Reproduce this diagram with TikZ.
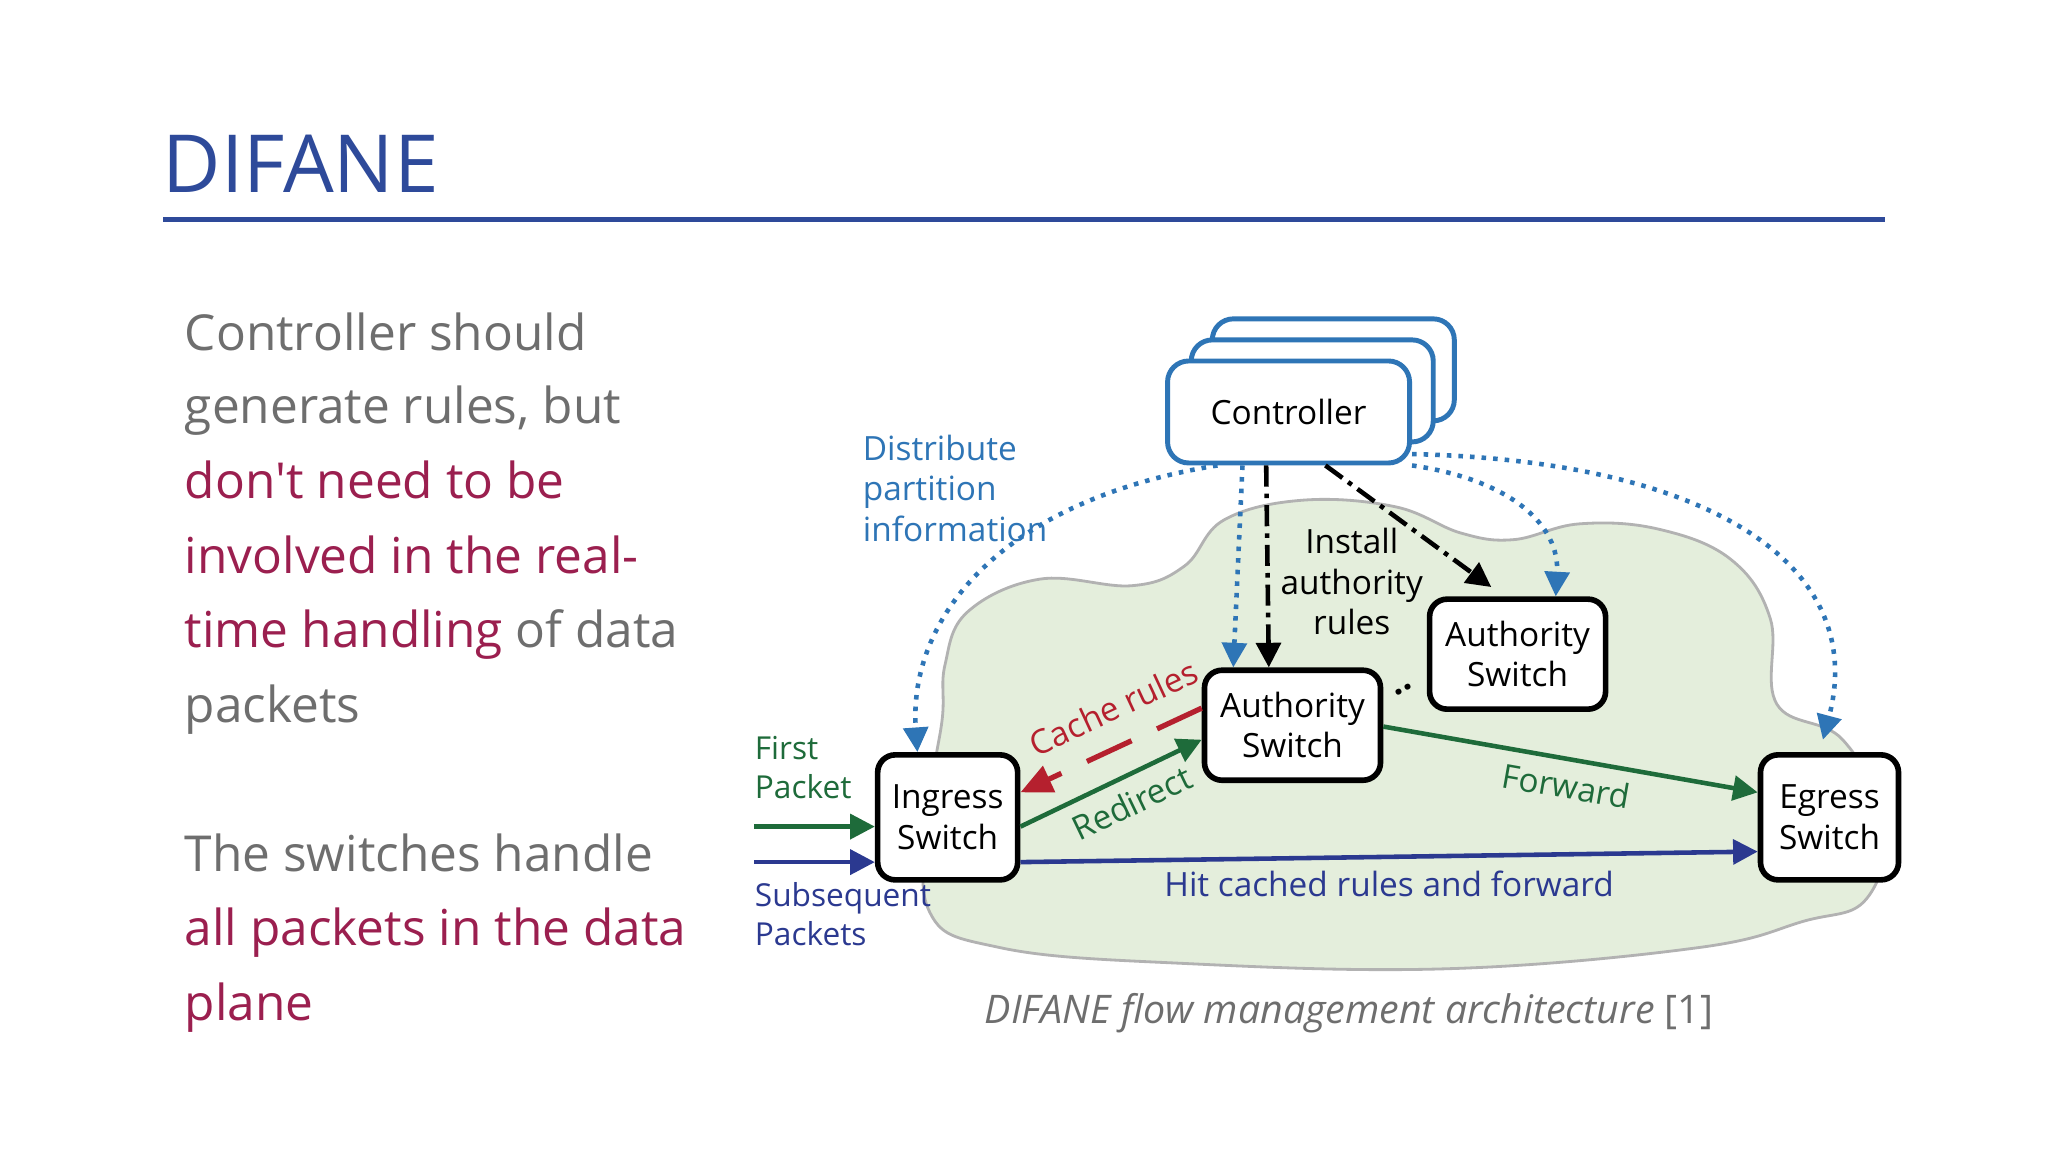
\documentclass[tikz,border=0pt]{standalone}
\usepackage{fontspec}
\setmainfont{Open Sans}
\usetikzlibrary{arrows.meta}
\definecolor{titleblue}{HTML}{2E4A9A}
\definecolor{txtgray}{HTML}{6E6E6E}
\definecolor{maroon}{HTML}{9B1F4F}
\definecolor{dgreen}{HTML}{1E6B3A}
\definecolor{dblue}{HTML}{2B3990}
\definecolor{lblue}{HTML}{2E75B6}
\definecolor{cred}{HTML}{B5202E}
\definecolor{cloud}{HTML}{E4EEDC}
\begin{document}
\begin{tikzpicture}[x=0.1316mm,y=-0.1316mm,
  sw/.style={draw=black,line width=1.6pt,rounded corners=5pt,fill=white,align=center,font=\fontsize{9.5}{11.5}\selectfont},
  ctl/.style={draw=lblue,line width=1.4pt,rounded corners=6pt,fill=white,minimum width=2.42cm,minimum height=1.02cm},
  line/.style={anchor=base west,font=\fontsize{14.1}{18}\selectfont,text=txtgray},
  lab/.style={font=\fontsize{9.5}{11.5}\selectfont},
  arr/.style={line width=1.3pt,-{Triangle[length=7pt,width=7pt]}},
  dots/.style={lblue,line width=1.3pt,dotted,-{Triangle[length=7pt,width=7pt]}},
  inst/.style={black,line width=1.3pt,dash pattern=on 6pt off 2pt on 1.3pt off 2pt,-{Triangle[length=7pt,width=7pt]}}]
\useasboundingbox (0,0) rectangle (1556,875.4);
\fill[white] (0,0) rectangle (1556,875.4);
% title
\node[anchor=base west,font=\fontsize{22.8}{28}\selectfont,text=titleblue,inner sep=0] (title) at (123,146) {DIFANE};
\draw[titleblue,line width=1.5pt] (124,167) -- (1432,167);
% left text
\node[line] (l1) at (131,266) {Controller should};
\node[line] (l2) at (131,322) {generate rules, but};
\node[line,text=maroon] (l3) at (131,379) {don\textquotesingle t need to be};
\node[line,text=maroon] (l4) at (131,436) {involved in the real-};
\node[line] (l5) at (131,492) {\textcolor{maroon}{time handling} of data};
\node[line] (l6) at (131,549) {packets};
\node[line] (l7) at (131,662) {The switches handle};
\node[line,text=maroon] (l8) at (131,718) {all packets in the data};
\node[line,text=maroon] (l9) at (131,775) {plane};
% cloud
\draw[gray!60,line width=0.8pt,fill=cloud] plot[smooth cycle,tension=0.65] coordinates {
 (718,505) (735,465) (790,440) (860,445) (900,430) (930,395) (990,380) (1060,385) (1110,405)
 (1150,410) (1200,398) (1260,402) (1315,425) (1345,470) (1350,535) (1400,562) (1432,625)
 (1418,683) (1370,700) (1290,720) (1100,736) (900,732) (760,720) (705,690) (708,600) (716,545)};
% controller stack
\node[ctl] (c2) at (1013,281) {};
\node[ctl] (c1) at (997,297) {};
\node[ctl,font=\fontsize{9.5}{11.5}\selectfont] (ctrl) at (979,313) {Controller};
% switches
\node[sw,minimum width=1.40cm,minimum height=1.25cm] (ing) at (720,621) {Ingress\\Switch};
\node[sw,minimum width=1.76cm,minimum height=1.10cm] (au1) at (982,551) {Authority\\Switch};
\node[sw,minimum width=1.76cm,minimum height=1.10cm] (au2) at (1153,497) {Authority\\Switch};
\node[sw,minimum width=1.38cm,minimum height=1.25cm] (eg) at (1390,621) {Egress\\Switch};
% free ends
\coordinate (fp) at (573,628);
\coordinate (sp) at (573,655);
\node[font=\fontsize{9}{11}\selectfont,text=dgreen,align=left,anchor=north west,inner sep=0] (fpl) at (573,559) {First\\Packet};
\node[font=\fontsize{9}{11}\selectfont,text=dblue,align=left,anchor=north west,inner sep=0] (spl) at (573,670) {Subsequent\\Packets};
\node[lab,text=lblue,align=left,anchor=north west,inner sep=0] (dist) at (655,330) {Distribute\\partition\\information};
% packet arrows
\draw[arr,dgreen] (fp) -- (fp -| ing.west);
\draw[arr,dblue] (sp) -- (sp -| ing.west);
\draw[arr,dgreen] (ing.east |- 0,628) -- (au1.west |- 0,562) node[pos=0.55,below,sloped,lab,text=dgreen] {Redirect};
\draw[cred,line width=1.5pt,dash pattern=on 14pt off 8pt,-{Triangle[length=9pt,width=8pt]}] (au1.west |- 0,538) -- (ing.east |- 0,602) node[pos=0.4,above=3pt,sloped,lab,text=cred] {Cache rules};
\draw[arr,dgreen] (au1.east |- 0,552) -- (eg.west |- 0,602) node[midway,below,sloped,lab,text=dgreen] {Forward};
\draw[arr,dblue] (ing.east |- 0,655) -- (eg.west |- 0,647) node[midway,below,lab,text=dblue] {Hit cached rules and forward};
% install
\draw[inst] (ctrl.south -| 962,0) -- (au1.north -| 964,0);
\draw[inst] (ctrl.south -| 1007,0) -- (1133,446);
\node[lab,align=center] (inl) at (1027,442) {Install\\authority\\rules};
\node[font=\bfseries,rotate=25] (dd) at (1066,524) {..};
% distribute
\draw[dots] (ctrl.south -| 944,0) -- (au1.north -| 937,0);
\draw[dots] (ctrl.south -| 925,0) .. controls (760,380) and (690,470) .. (ing.north -| 697,0);
\draw[dots] (ctrl.south east) .. controls (1150,365) and (1185,400) .. (au2.north -| 1182,0);
\draw[dots] (ctrl.east |- 0,345) .. controls (1300,350) and (1420,430) .. (1385,562);
% caption
\node[font=\fontsize{11.2}{14}\selectfont,text=txtgray] (cap) at (1025,770) {\textit{DIFANE flow management architecture} [1]};
\end{tikzpicture}
\end{document}
